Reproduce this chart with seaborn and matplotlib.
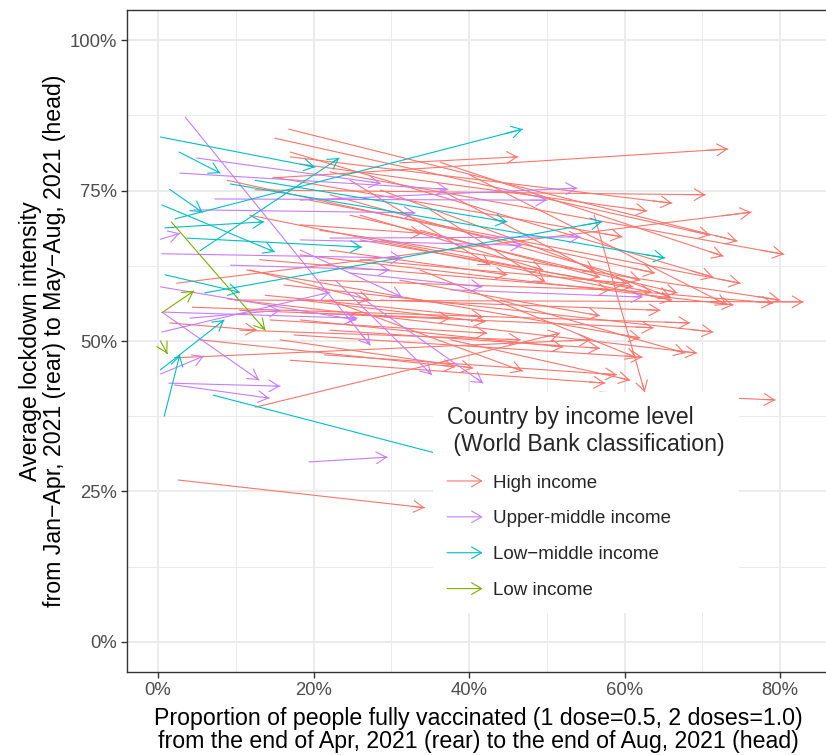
import numpy as np
import pandas as pd
import matplotlib
matplotlib.use("Agg")
import matplotlib.pyplot as plt
import seaborn as sns
from matplotlib.lines import Line2D
from matplotlib.patches import FancyArrowPatch
from matplotlib.legend_handler import HandlerBase
from matplotlib.ticker import PercentFormatter, MultipleLocator

# Vaccination share (%) at end of Apr (x0) / end of Aug (x1) and
# average lockdown intensity (%) Jan-Apr (y0) / May-Aug (y1), by income group.
high_x0 = [14.7, 31.1, 12.5, 17.0, 18.3, 2.4, 15.0, 16.8, 22.1, 36.3, 14.9, 8.9, 17.0, 19.5,
           24.7, 28.6, 20.8, 9.9, 13.1, 18.3, 4.4, 16.2, 18.5, 8.9, 17.5, 21.4, 56.8, 11.4,
           33.7, 26.0, 22.1, 11.8, 13.8, 10.5, 14.4, 2.1, 18.3, 22.1, 15.7, 2.6, 56.1, 12.5,
           18.3, 36.3, 26.0, 28.6, 40.1, 35.0, 1.5, 24.7, 31.1, 10.5, 5.4, 44.0, 37.6, 17.0,
           28.6, 20.8, 22.1, 26.0, 11.8, 22.1, 33.7, 18.3]
high_y0 = [77.1, 79.6, 75.1, 80.6, 79.4, 59.6, 83.7, 85.2, 78.1, 79.7, 77.2, 76.7, 81.4, 73.4,
           70.9, 66.8, 68.4, 56.8, 63.5, 64.3, 55.6, 59.3, 54.7, 57.0, 51.0, 47.7, 41.5, 61.8,
           68.4, 70.9, 65.1, 61.8, 57.6, 55.1, 53.5, 47.2, 53.5, 56.8, 50.2, 26.9, 70.9, 39.0,
           69.3, 75.1, 63.5, 75.1, 77.6, 71.8, 53.0, 76.7, 60.1, 51.8, 50.2, 56.8, 50.2, 46.8,
           56.8, 60.1, 74.3, 66.8, 70.9, 51.8, 61.8, 56.8]
high_x1 = [73.3, 46.3, 70.4, 66.1, 62.9, 76.3, 71.0, 74.5, 80.5, 72.7, 59.7, 63.9, 71.4, 74.9,
           66.8, 63.5, 80.0, 83.0, 79.1, 74.0, 68.4, 71.4, 63.7, 69.3, 62.3, 59.0, 79.4, 62.0,
           56.8, 49.5, 44.9, 27.3, 41.8, 37.6, 42.3, 55.6, 52.1, 46.9, 40.5, 34.3, 62.6, 51.7,
           34.0, 56.2, 60.3, 65.9, 73.2, 49.8, 12.7, 42.7, 56.8, 46.6, 38.2, 67.8, 60.7, 57.5,
           64.6, 58.1, 62.0, 61.1, 66.1, 56.8, 61.6, 42.1]
high_y1 = [81.9, 80.6, 74.3, 72.9, 71.6, 71.4, 67.6, 66.6, 64.4, 64.1, 67.3, 61.3, 60.6, 59.6,
           58.0, 58.1, 56.8, 56.5, 56.3, 56.0, 53.0, 51.5, 52.2, 48.0, 47.3, 44.4, 40.2, 50.5,
           60.6, 61.8, 61.0, 56.8, 54.0, 53.8, 51.3, 50.2, 49.0, 45.0, 45.5, 22.3, 41.5, 51.3,
           67.9, 61.5, 59.6, 57.3, 56.0, 59.8, 51.8, 62.6, 54.2, 50.2, 45.7, 48.0, 43.5, 43.0,
           55.1, 58.5, 60.1, 59.0, 56.8, 48.8, 47.2, 53.2]

upper_x0 = [3.5, 5.0, 2.8, 0.3, 18.3, 7.3, 4.6, 18.3, 22.1, 0.5, 18.3, 0.3, 0.5, 0.8, 0.5,
            0.3, 1.4, 2.1, 19.4, 4.1, 22.8, 25.3, 37.6, 24.7, 9.3]
upper_y0 = [87.2, 80.4, 77.9, 66.9, 73.4, 73.6, 71.8, 66.8, 67.1, 64.5, 65.1, 59.0, 51.5, 54.8,
            54.8, 44.5, 43.0, 42.7, 29.9, 53.8, 60.1, 58.0, 58.5, 61.3, 62.6]
upper_x1 = [27.3, 28.6, 37.3, 2.8, 53.9, 50.0, 33.1, 46.8, 54.3, 31.4, 31.4, 25.5, 22.1, 25.6,
            13.0, 5.9, 15.7, 14.3, 29.5, 15.7, 35.2, 41.8, 62.3, 41.7, 29.8]
upper_y1 = [49.3, 76.2, 75.2, 67.9, 75.4, 73.4, 71.3, 65.9, 67.3, 63.8, 57.3, 53.5, 58.1, 53.8,
            43.5, 47.5, 42.5, 40.5, 30.7, 55.1, 44.4, 43.0, 57.3, 59.0, 61.8]

lowmid_x0 = [0.3, 2.7, 1.5, 0.5, 2.2, 5.4, 0.9, 3.7, 12.5, 9.3, 6.0, 0.9, 0.3, 0.8, 7.1]
lowmid_y0 = [83.9, 81.4, 75.2, 72.6, 70.3, 65.0, 68.8, 67.1, 76.7, 76.1, 58.0, 61.0, 45.2, 37.5, 41.0]
lowmid_x1 = [20.2, 8.0, 5.7, 15.0, 46.9, 23.3, 13.6, 26.2, 44.9, 65.2, 57.1, 10.5, 8.5, 2.8, 46.6]
lowmid_y1 = [78.9, 77.9, 71.4, 64.8, 85.2, 80.4, 69.8, 65.6, 69.8, 63.8, 69.8, 58.1, 53.5, 47.7, 27.7]

low_x0 = [1.7, 0.5, 0.3]
low_y0 = [69.8, 54.7, 50.0]
low_x1 = [13.8, 4.6, 1.2]
low_y1 = [51.8, 58.3, 47.9]

groups = ["High income", "Upper-middle income", "Low\u2212middle income", "Low income"]
colors = ["#F8766D", "#C77CFF", "#00BFC4", "#7CAE00"]
series = [
    (high_x0, high_y0, high_x1, high_y1),
    (upper_x0, upper_y0, upper_x1, upper_y1),
    (lowmid_x0, lowmid_y0, lowmid_x1, lowmid_y1),
    (low_x0, low_y0, low_x1, low_y1),
]

rows = []
for g, (x0, y0, x1, y1) in zip(groups, series):
    for i in range(len(x0)):
        cid = f"{g}-{i}"
        rows.append(dict(country=cid, group=g, step=0, x=x0[i], y=y0[i]))
        rows.append(dict(country=cid, group=g, step=1, x=x1[i], y=y1[i]))
df = pd.DataFrame(rows)

sns.set_theme(style="whitegrid")
plt.rcParams["font.family"] = ["Liberation Sans", "DejaVu Sans"]

ARROW = "->,head_length=0.72,head_width=0.42"
LW = 0.8

fig = plt.figure(figsize=(8.26, 7.55), dpi=100)
ax = fig.add_axes([127 / 826, 1 - 672 / 755, (829 - 127) / 826, (672 - 10) / 755])
ax.set_facecolor("white")

palette = dict(zip(groups, colors))
sns.lineplot(data=df, x="x", y="y", hue="group", units="country", estimator=None,
             sort=False, palette=palette, hue_order=groups, legend=False,
             linewidth=LW, ax=ax)

for g, (x0, y0, x1, y1) in zip(groups, series):
    for a, b, c, d in zip(x0, y0, x1, y1):
        ax.annotate("", xy=(c, d), xytext=(c - 0.05 * (c - a), d - 0.05 * (d - b)),
                    arrowprops=dict(arrowstyle=ARROW, color=palette[g], lw=LW,
                                    shrinkA=0, shrinkB=0, mutation_scale=10))

ax.set_xlim(-3.99, 86.3)
ax.set_ylim(-5, 105)
ax.xaxis.set_major_locator(MultipleLocator(20))
ax.xaxis.set_minor_locator(MultipleLocator(10))
ax.yaxis.set_major_locator(MultipleLocator(25))
ax.yaxis.set_minor_locator(MultipleLocator(12.5))
ax.xaxis.set_major_formatter(PercentFormatter(xmax=100, decimals=0))
ax.yaxis.set_major_formatter(PercentFormatter(xmax=100, decimals=0))

ax.grid(which="major", color="#EBEBEB", linewidth=1.4)
ax.grid(which="minor", color="#EBEBEB", linewidth=0.7)
ax.set_axisbelow(True)
for s in ax.spines.values():
    s.set_color("#333333")
    s.set_linewidth(1.0)

ax.tick_params(which="major", length=4, width=1.0, color="#333333",
               labelsize=13.3, labelcolor="#4D4D4D", pad=3,
               bottom=True, left=True)
ax.tick_params(which="minor", length=0)

ax.set_xlabel("Proportion of people fully vaccinated (1 dose=0.5, 2 doses=1.0)\n"
              "from the end of Apr, 2021 (rear) to the end of Aug, 2021 (head)",
              fontsize=16.7, color="black", labelpad=6, linespacing=1.02)
ax.set_ylabel("Average lockdown intensity\n"
              "from Jan\u2212Apr, 2021 (rear) to May\u2212Aug, 2021 (head)",
              fontsize=16.7, color="black", labelpad=2.5, linespacing=1.08)


class ArrowHandler(HandlerBase):
    def create_artists(self, legend, orig_handle, xdescent, ydescent, width, height,
                       fontsize, trans):
        y = height / 2 - ydescent
        arr = FancyArrowPatch((-xdescent, y), (width - xdescent, y), arrowstyle=ARROW,
                              mutation_scale=10, color=orig_handle.get_color(),
                              lw=LW, shrinkA=0, shrinkB=0, transform=trans)
        return [arr]


handles = [Line2D([], [], color=c, lw=LW) for c in colors]
leg = ax.legend(handles, groups, handler_map={Line2D: ArrowHandler()},
                title="Country by income level\n (World Bank classification)",
                loc="upper left", bbox_to_anchor=((433 - 127) / 702, (672 - 392) / 662),
                fontsize=13.5, title_fontsize=16.7, alignment="left",
                frameon=True, fancybox=False, borderpad=0.75, labelspacing=1.0,
                handlelength=1.9, handletextpad=0.55, borderaxespad=0)
leg.get_frame().set_facecolor("white")
leg.get_frame().set_edgecolor("none")
leg.get_frame().set_alpha(1)

fig.savefig("out.png", dpi=100)
